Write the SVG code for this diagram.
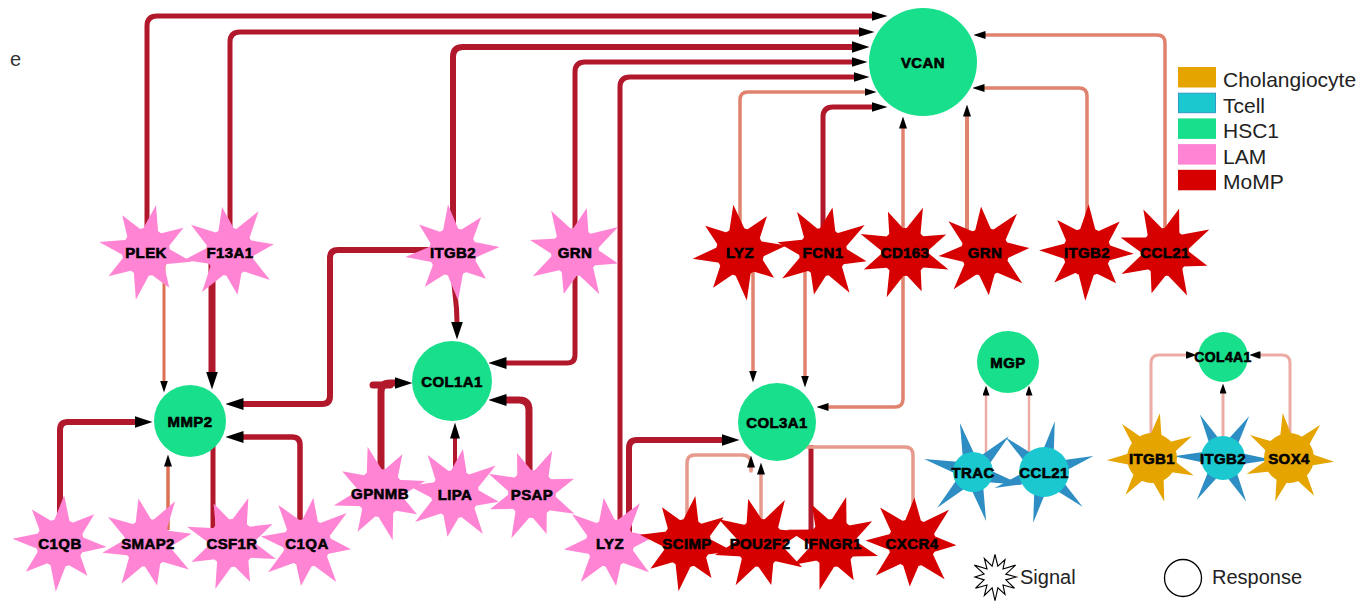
<svg xmlns="http://www.w3.org/2000/svg" xmlns:xlink="http://www.w3.org/1999/xlink" width="1359" height="604" viewBox="0 0 1359 604">
  <style>
    .e { fill: none; stroke-linejoin: round; }
    .dk { stroke: #B2182B; }
    .sa { stroke: #E0826E; }
    .lt { stroke: #E79A8C; }
    .pk { stroke: #ECACA5; }
    .or { stroke: #DD7052; }
    .lam use, .lam circle { fill: #FF85D4; }
    .momp use, .momp circle { fill: #D60000; }
    .hsc circle { fill: #18DF8B; }
    .tcell use { fill: #2E8EC3; }
    .tcell circle { fill: #1BC8D0; }
    .chol use, .chol circle { fill: #E5A400; }
    .lbl { font-family: "Liberation Sans", Arial, sans-serif; font-weight: 700; font-size: 15px; letter-spacing: 0.4px; text-anchor: middle; fill: #000; stroke: #000; stroke-width: 0.6; }
    .leg { font-family: "Liberation Sans", Arial, sans-serif; font-size: 21px; fill: #222; }
    .leg2 { font-family: "Liberation Sans", Arial, sans-serif; font-size: 20px; fill: #222; }
  </style>
  <defs>
    <!-- eight-spike star bodies -->
    <polygon id="starA" points="0,-46 8,-19.4 30.4,-30.4 19.4,-8 45,0 19.4,8 29,29 8,19.4 0,47 -8,19.4 -30.4,30.4 -19.4,8 -46,0 -19.4,-8 -29.7,-29.7 -8,-19.4"/>
    <polygon id="starB" points="0,-43 8,-19.4 33.2,-33.2 19.4,-8 42,0 19.4,8 32.5,32.5 8,19.4 0,41 -8,19.4 -32.5,32.5 -19.4,8 -44,0 -19.4,-8 -31.8,-31.8 -8,-19.4"/>
    <!-- six thin spikes -->
    <polygon id="starT" points="0,-44 6,-10.4 38.1,-22 12,0 38.1,22 6,10.4 0,44 -6,10.4 -38.1,22 -12,0 -38.1,-22 -6,-10.4"/>
    <!-- seven spikes -->
    <polygon id="starG" points="0,-42 6.9,-14.4 32.8,-26.2 15.6,-3.6 40.9,9.3 12.5,10 18.2,37.8 0,16 -18.2,37.8 -12.5,10 -40.9,9.3 -15.6,-3.6 -32.8,-26.2 -6.9,-14.4"/>
    <marker id="aL" viewBox="0 0 18 12" refX="0.5" refY="6" markerWidth="18" markerHeight="12" markerUnits="userSpaceOnUse" orient="auto"><path d="M0,0L18,6L0,12Z" fill="#000"/></marker>
    <marker id="aM" viewBox="0 0 16 10" refX="0.5" refY="5" markerWidth="16" markerHeight="10" markerUnits="userSpaceOnUse" orient="auto"><path d="M0,0L16,5L0,10Z" fill="#000"/></marker>
    <marker id="aS" viewBox="0 0 12 8" refX="0.5" refY="4" markerWidth="12" markerHeight="8" markerUnits="userSpaceOnUse" orient="auto"><path d="M0,0L12,4L0,8Z" fill="#000"/></marker>
    <marker id="aX" viewBox="0 0 10 7" refX="0.5" refY="3.5" markerWidth="10" markerHeight="7" markerUnits="userSpaceOnUse" orient="auto"><path d="M0,0L10,3.5L0,7Z" fill="#000"/></marker>
    <marker id="aT" viewBox="0 0 11 8" refX="0.5" refY="4" markerWidth="11" markerHeight="8" markerUnits="userSpaceOnUse" orient="auto"><path d="M0,0.5H1.6V7.5H0Z M1.6,0.5L11,4L1.6,7.5Z" fill="#000"/></marker>
  </defs>

  <rect width="1359" height="604" fill="#fff"/>
  <text x="10" y="66" style="font-family:'Liberation Sans',Arial,sans-serif;font-size:20px;fill:#333">e</text>

  <g id="connectors">
    <!-- into VCAN -->
    <path class="e dk" stroke-width="5" marker-end="url(#aM)" d="M147,245 V26 Q147,16 157,16 H872"/>
    <path class="e dk" stroke-width="5" marker-end="url(#aM)" d="M230,245 V42 Q230,32 240,32 H859"/>
    <path class="e dk" stroke-width="6" marker-end="url(#aL)" d="M453,245 V57 Q453,47 463,47 H852"/>
    <path class="e dk" stroke-width="5" marker-end="url(#aM)" d="M575,245 V72 Q575,62 585,62 H852"/>
    <path class="e dk" stroke-width="5" marker-end="url(#aM)" d="M620,535 V87 Q620,77 630,77 H854"/>
    <path class="e sa" stroke-width="3.5" marker-end="url(#aS)" d="M740,245 V100 Q740,92 748,92 H865"/>
    <path class="e dk" stroke-width="5" marker-end="url(#aM)" d="M823,245 V117 Q823,107 833,107 H872"/>
    <path class="e sa" stroke-width="3.5" marker-end="url(#aS)" d="M903,250 V128"/>
    <path class="e sa" stroke-width="4" marker-end="url(#aS)" d="M967,250 V116"/>
    <path class="e sa" stroke-width="3.5" marker-end="url(#aS)" d="M1087,245 V96 Q1087,88 1079,88 H984"/>
    <path class="e sa" stroke-width="3.5" marker-end="url(#aS)" d="M1165,245 V43 Q1165,35 1157,35 H985"/>
    <!-- into MMP2 -->
    <path class="e or" stroke-width="3" marker-end="url(#aS)" d="M164,262 V381"/>
    <path class="e dk" stroke-width="7" marker-end="url(#aL)" d="M212,262 V372"/>
    <path class="e dk" stroke-width="6" marker-end="url(#aL)" d="M445,250 H338 Q330,250 330,258 V396 Q330,404 322,404 H243"/>
    <path class="e dk" stroke-width="6" marker-end="url(#aL)" d="M60,535 V430 Q60,422 68,422 H135"/>
    <path class="e or" stroke-width="3.5" marker-end="url(#aS)" d="M168,530 V466"/>
    <path class="e dk" stroke-width="5" d="M213,535 V440"/>
    <path class="e dk" stroke-width="5.5" marker-end="url(#aL)" d="M300,535 V445 Q300,437 292,437 H243"/>
    <!-- into COL1A1 -->
    <path class="e dk" stroke-width="5" marker-end="url(#aL)" d="M453,262 C453,295 457,295 457,322"/>
    <path class="e dk" stroke-width="5" marker-end="url(#aL)" d="M575,262 V355 Q575,363 567,363 H506"/>
    <path class="e dk" stroke-width="7" stroke-linecap="round" d="M373,385 H390"/>
    <path class="e dk" stroke-width="7" marker-end="url(#aL)" d="M381,485 V392 Q381,383 390,383 H395"/>
    <path class="e dk" stroke-width="4" marker-end="url(#aM)" d="M455,485 V438"/>
    <path class="e dk" stroke-width="7" marker-end="url(#aL)" d="M529,480 V410 Q529,400 519,400 H506"/>
    <!-- into COL3A1 -->
    <path class="e sa" stroke-width="3.5" marker-end="url(#aS)" d="M753,262 V371"/>
    <path class="e sa" stroke-width="3.5" marker-end="url(#aS)" d="M805,262 V376"/>
    <path class="e sa" stroke-width="3.5" marker-end="url(#aS)" d="M903,262 V399 Q903,407 895,407 H828"/>
    <path class="e dk" stroke-width="6" marker-end="url(#aL)" d="M629,535 V448 Q629,440 637,440 H722"/>
    <path class="e lt" stroke-width="3.5" stroke-linecap="round" d="M687,535 V463 Q687,455 695,455 H742 Q751,455 751,464 V471"/>
    <path class="e lt" stroke-width="3.5" marker-end="url(#aS)" d="M751,471 V467"/>
    <path class="e lt" stroke-width="3.5" marker-end="url(#aS)" d="M761,535 V474"/>
    <path class="e dk" stroke-width="5" d="M811,535 V445"/>
    <path class="e lt" stroke-width="3.5" d="M913,535 V455 Q913,447 905,447 H805"/>
    <!-- into MGP -->
    <path class="e pk" stroke-width="2.5" marker-end="url(#aX)" d="M986,465 V395"/>
    <path class="e pk" stroke-width="2.5" marker-end="url(#aX)" d="M1029,465 V395"/>
    <!-- into COL4A1 -->
    <path class="e pk" stroke-width="3" marker-end="url(#aT)" d="M1151,450 V363 Q1151,355 1159,355 H1186"/>
    <path class="e pk" stroke-width="3" marker-end="url(#aX)" d="M1223,450 V393"/>
    <path class="e pk" stroke-width="3" marker-end="url(#aT)" d="M1290,450 V363 Q1290,355 1282,355 H1260"/>
  </g>

  <!-- response nodes -->
  <g id="node-VCAN" class="hsc"><circle cx="923" cy="62" r="54"/><text class="lbl" x="923" y="68">VCAN</text></g>
  <g id="node-MMP2" class="hsc"><circle cx="190" cy="421" r="36"/><text class="lbl" x="190" y="427">MMP2</text></g>
  <g id="node-COL1A1" class="hsc"><circle cx="452" cy="381" r="40"/><text class="lbl" x="452" y="387">COL1A1</text></g>
  <g id="node-COL3A1" class="hsc"><circle cx="777" cy="422" r="39"/><text class="lbl" x="777" y="428">COL3A1</text></g>
  <g id="node-MGP" class="hsc"><circle cx="1008" cy="362" r="31"/><text class="lbl" x="1008" y="368">MGP</text></g>
  <g id="node-COL4A1" class="hsc"><circle cx="1223" cy="357" r="25"/><text class="lbl" x="1223" y="362" style="font-size:14px">COL4A1</text></g>

  <!-- LAM signals -->
  <g id="node-PLEK-LAM" class="lam" transform="translate(146,252)"><use xlink:href="#starA" href="#starA" transform="rotate(12) scale(1.04)"/><circle r="24"/><text class="lbl" y="5.5">PLEK</text></g>
  <g id="node-F13A1-LAM" class="lam" transform="translate(230,252)"><use xlink:href="#starB" href="#starB" transform="rotate(-10) scale(1.06)"/><circle r="24"/><text class="lbl" y="5.5">F13A1</text></g>
  <g id="node-ITGB2-LAM" class="lam" transform="translate(453,252)"><use xlink:href="#starA" href="#starA" transform="rotate(-6) scale(1.04)"/><circle r="24"/><text class="lbl" y="5.5">ITGB2</text></g>
  <g id="node-GRN-LAM" class="lam" transform="translate(575,252)"><use xlink:href="#starB" href="#starB" transform="rotate(15) scale(1.06)"/><circle r="24"/><text class="lbl" y="5.5">GRN</text></g>
  <g id="node-C1QB-LAM" class="lam" transform="translate(60,543)"><use xlink:href="#starA" href="#starA" transform="rotate(5) scale(1.04)"/><circle r="24"/><text class="lbl" y="5.5">C1QB</text></g>
  <g id="node-SMAP2-LAM" class="lam" transform="translate(148,543)"><use xlink:href="#starB" href="#starB" transform="rotate(-12) scale(1.06)"/><circle r="24"/><text class="lbl" y="5.5">SMAP2</text></g>
  <g id="node-CSF1R-LAM" class="lam" transform="translate(232,543)"><use xlink:href="#starA" href="#starA" transform="rotate(20) scale(1.04)"/><circle r="24"/><text class="lbl" y="5.5">CSF1R</text></g>
  <g id="node-C1QA-LAM" class="lam" transform="translate(307,543)"><use xlink:href="#starB" href="#starB" transform="rotate(8) scale(1.06)"/><circle r="24"/><text class="lbl" y="5.5">C1QA</text></g>
  <g id="node-GPNMB-LAM" class="lam" transform="translate(380,493)"><use xlink:href="#starA" href="#starA" transform="rotate(-15) scale(1.04)"/><circle r="24"/><text class="lbl" y="5.5">GPNMB</text></g>
  <g id="node-LIPA-LAM" class="lam" transform="translate(455,494)"><use xlink:href="#starB" href="#starB" transform="rotate(10) scale(1.06)"/><circle r="24"/><text class="lbl" y="5.5">LIPA</text></g>
  <g id="node-PSAP-LAM" class="lam" transform="translate(532,494)"><use xlink:href="#starA" href="#starA" transform="rotate(25) scale(1.04)"/><circle r="24"/><text class="lbl" y="5.5">PSAP</text></g>
  <g id="node-LYZ-LAM" class="lam" transform="translate(610,543)"><use xlink:href="#starB" href="#starB" transform="rotate(-8) scale(1.06)"/><circle r="24"/><text class="lbl" y="5.5">LYZ</text></g>

  <!-- MoMP signals -->
  <g id="node-LYZ-MoMP" class="momp" transform="translate(740,252)"><use xlink:href="#starA" href="#starA" transform="rotate(-8) scale(1.04)"/><circle r="24"/><text class="lbl" y="5.5">LYZ</text></g>
  <g id="node-FCN1-MoMP" class="momp" transform="translate(823,252)"><use xlink:href="#starB" href="#starB" transform="rotate(12) scale(1.06)"/><circle r="24"/><text class="lbl" y="5.5">FCN1</text></g>
  <g id="node-CD163-MoMP" class="momp" transform="translate(905,252)"><use xlink:href="#starA" href="#starA" transform="rotate(22) scale(1.04)"/><circle r="24"/><text class="lbl" y="5.5">CD163</text></g>
  <g id="node-GRN-MoMP" class="momp" transform="translate(985,252)"><use xlink:href="#starB" href="#starB" transform="rotate(-5) scale(1.06)"/><circle r="24"/><text class="lbl" y="5.5">GRN</text></g>
  <g id="node-ITGB2-MoMP" class="momp" transform="translate(1087,252)"><use xlink:href="#starA" href="#starA" transform="rotate(2) scale(1.04)"/><circle r="24"/><text class="lbl" y="5.5">ITGB2</text></g>
  <g id="node-CCL21-MoMP" class="momp" transform="translate(1165,252)"><use xlink:href="#starB" href="#starB" transform="rotate(18) scale(1.06)"/><circle r="24"/><text class="lbl" y="5.5">CCL21</text></g>
  <g id="node-SCIMP-MoMP" class="momp" transform="translate(687,543)"><use xlink:href="#starA" href="#starA" transform="rotate(10) scale(1.04)"/><circle r="24"/><text class="lbl" y="5.5">SCIMP</text></g>
  <g id="node-POU2F2-MoMP" class="momp" transform="translate(760,543)"><use xlink:href="#starB" href="#starB" transform="rotate(-15) scale(1.06)"/><circle r="24"/><text class="lbl" y="5.5">POU2F2</text></g>
  <g id="node-IFNGR1-MoMP" class="momp" transform="translate(833,543)"><use xlink:href="#starA" href="#starA" transform="rotate(16) scale(1.04)"/><circle r="24"/><text class="lbl" y="5.5">IFNGR1</text></g>
  <g id="node-CXCR4-MoMP" class="momp" transform="translate(912,543)"><use xlink:href="#starB" href="#starB" transform="rotate(3) scale(1.06)"/><circle r="24"/><text class="lbl" y="5.5">CXCR4</text></g>

  <!-- Tcell signals -->
  <g id="node-TRAC-Tcell" class="tcell" transform="translate(973,472)"><use xlink:href="#starT" href="#starT" transform="rotate(-15) scale(1.15)"/><circle r="20"/><text class="lbl" y="5.5">TRAC</text></g>
  <g id="node-CCL21-Tcell" class="tcell" transform="translate(1044,472)"><use xlink:href="#starT" href="#starT" transform="rotate(12) scale(1.18)"/><circle r="25"/><text class="lbl" y="5.5">CCL21</text></g>
  <g id="node-ITGB2-Tcell" class="tcell" transform="translate(1223,458)"><use xlink:href="#starT" href="#starT" transform="rotate(-28) scale(1.12)"/><circle r="22"/><text class="lbl" y="5.5">ITGB2</text></g>

  <!-- Cholangiocyte signals -->
  <g id="node-ITGB1-Chol" class="chol" transform="translate(1152,458)"><use xlink:href="#starG" href="#starG" transform="rotate(10) scale(1.08)"/><circle r="25"/><text class="lbl" y="5.5">ITGB1</text></g>
  <g id="node-SOX4-Chol" class="chol" transform="translate(1289,458)"><use xlink:href="#starG" href="#starG" transform="rotate(-8) scale(1.08)"/><circle r="25"/><text class="lbl" y="5.5">SOX4</text></g>

  <!-- cell type legend -->
  <g id="legend-celltype">
    <rect x="1178" y="67" width="38" height="20.5" fill="#E5A400"/>
    <rect x="1178.5" y="93.2" width="37" height="19.5" fill="#1BC8D0" stroke="#2E9BC3" stroke-width="1"/>
    <rect x="1178" y="118.4" width="38" height="20.5" fill="#18DF8B"/>
    <rect x="1178" y="144.1" width="38" height="20.5" fill="#FF85D4"/>
    <rect x="1178" y="169.8" width="38" height="20.5" fill="#D60000"/>
    <text class="leg" x="1223" y="87">Cholangiocyte</text>
    <text class="leg" x="1223" y="113">Tcell</text>
    <text class="leg" x="1223" y="138">HSC1</text>
    <text class="leg" x="1223" y="164">LAM</text>
    <text class="leg" x="1223" y="189">MoMP</text>
  </g>

  <!-- node shape legend -->
  <g id="legend-shape">
    <polygon transform="translate(995,577) scale(1.25)" fill="#fff" stroke="#000" stroke-width="0.9" points="0,-18 2.3,-8.7 8,-13.9 6.4,-6.4 16.5,-9.5 8.7,-2.3 17,0 8.7,2.3 15.6,9 6.4,6.4 8,13.9 2.3,8.7 0,19 -2.3,8.7 -8.5,14.7 -6.4,6.4 -15.6,9 -8.7,2.3 -16,0 -8.7,-2.3 -16.5,-9.5 -6.4,-6.4 -8.5,-14.7 -2.3,-8.7"/>
    <text class="leg2" x="1020" y="584">Signal</text>
    <circle cx="1183" cy="578" r="18.5" fill="#fff" stroke="#000" stroke-width="1.3"/>
    <text class="leg2" x="1212" y="584">Response</text>
  </g>
</svg>
